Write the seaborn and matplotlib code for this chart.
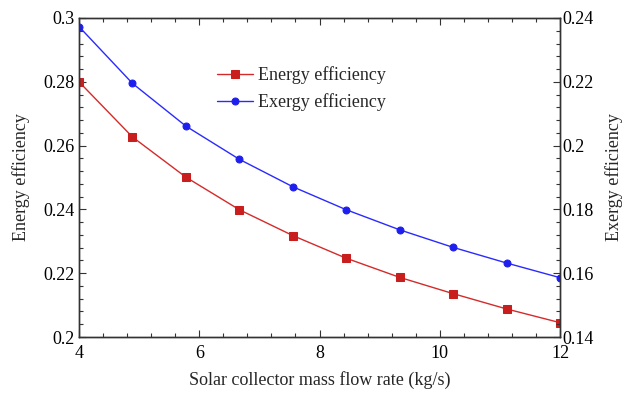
import numpy as np
import pandas as pd
import matplotlib
matplotlib.use("Agg")
import matplotlib.pyplot as plt
from matplotlib.ticker import MultipleLocator
import seaborn as sns

# Solar collector mass flow rate (kg/s)
mass_flow = [4.0, 4.889, 5.778, 6.667, 7.556, 8.444, 9.333, 10.222, 11.111, 12.0]
# Energy efficiency (left axis)
energy_eff = [0.2800, 0.2627, 0.2501, 0.2399, 0.2318, 0.2247, 0.2187, 0.2136, 0.2088, 0.2045]
# Exergy efficiency (right axis)
exergy_eff = [0.2373, 0.2195, 0.2061, 0.1957, 0.1871, 0.1799, 0.1736, 0.1681, 0.1632, 0.1586]

df = pd.DataFrame({"m": mass_flow, "energy": energy_eff, "exergy": exergy_eff})

sns.set_theme(style="ticks")
plt.rcParams["font.family"] = ["Liberation Serif", "DejaVu Serif"]
plt.rcParams["mathtext.fontset"] = "stix"

red = "#d42a2a"
blue = "#2a2aff"
fs = 13

fig = plt.figure(figsize=(6.25, 3.97), dpi=100)
ax = fig.add_axes([0.1264, 0.1511, 0.896 - 0.1264, 0.9547 - 0.1511])
ax2 = ax.twinx()

sns.lineplot(data=df, x="m", y="energy", ax=ax, color=red, lw=1.0,
             marker="s", markersize=6, markeredgecolor="#c81e1e",
             markerfacecolor="#c81e1e", label="Energy efficiency", legend=False)
sns.lineplot(data=df, x="m", y="exergy", ax=ax2, color=blue, lw=1.0,
             marker="o", markersize=5, markeredgecolor="#1e1eee",
             markerfacecolor="#1e1eee", label="Exergy efficiency", legend=False)

ax.set_xlim(4, 12)
ax.set_ylim(0.2, 0.3)
ax2.set_ylim(0.14, 0.24)

ax.xaxis.set_major_locator(MultipleLocator(2))
ax.xaxis.set_minor_locator(MultipleLocator(0.4))
ax.yaxis.set_major_locator(MultipleLocator(0.02))
ax.yaxis.set_minor_locator(MultipleLocator(0.004))
ax2.yaxis.set_major_locator(MultipleLocator(0.02))
ax2.yaxis.set_minor_locator(MultipleLocator(0.004))

ax.set_xticks([4, 6, 8, 10, 12])
ax.set_xticklabels(["4", "6", "8", "10", "12"])
ax.set_yticks([0.2, 0.22, 0.24, 0.26, 0.28, 0.3])
ax.set_yticklabels(["0.2", "0.22", "0.24", "0.26", "0.28", "0.3"])
ax2.set_yticks([0.14, 0.16, 0.18, 0.2, 0.22, 0.24])
ax2.set_yticklabels(["0.14", "0.16", "0.18", "0.2", "0.22", "0.24"])

spine_c = "#333333"
for a in (ax, ax2):
    for s in a.spines.values():
        s.set_color(spine_c)
        s.set_linewidth(1.0)
    a.tick_params(which="both", direction="in", colors=spine_c, labelcolor="black",
                  labelsize=fs, width=0.8)
    a.tick_params(which="major", length=5)
    a.tick_params(which="minor", length=3)

ax.tick_params(axis="x", which="both", top=True, labeltop=False)
ax.tick_params(axis="y", which="both", right=False)
ax.tick_params(axis="x", pad=6)
ax.tick_params(axis="y", pad=3)
ax2.tick_params(axis="y", pad=2)

ax.set_xlabel("Solar collector mass flow rate (kg/s)", fontsize=fs, labelpad=6)
ax.set_ylabel("Energy efficiency", fontsize=fs, labelpad=10)
ax2.set_ylabel("Exergy efficiency", fontsize=fs, labelpad=8)

h1, l1 = ax.get_legend_handles_labels()
h2, l2 = ax2.get_legend_handles_labels()
leg = ax.legend(h1 + h2, l1 + l2, loc="upper left",
                bbox_to_anchor=(0.335, 0.851), bbox_transform=fig.transFigure,
                frameon=False, fontsize=fs, handlelength=2.0, handletextpad=0.3,
                labelspacing=0.5, borderaxespad=0)

fig.savefig("out.png", dpi=100)
